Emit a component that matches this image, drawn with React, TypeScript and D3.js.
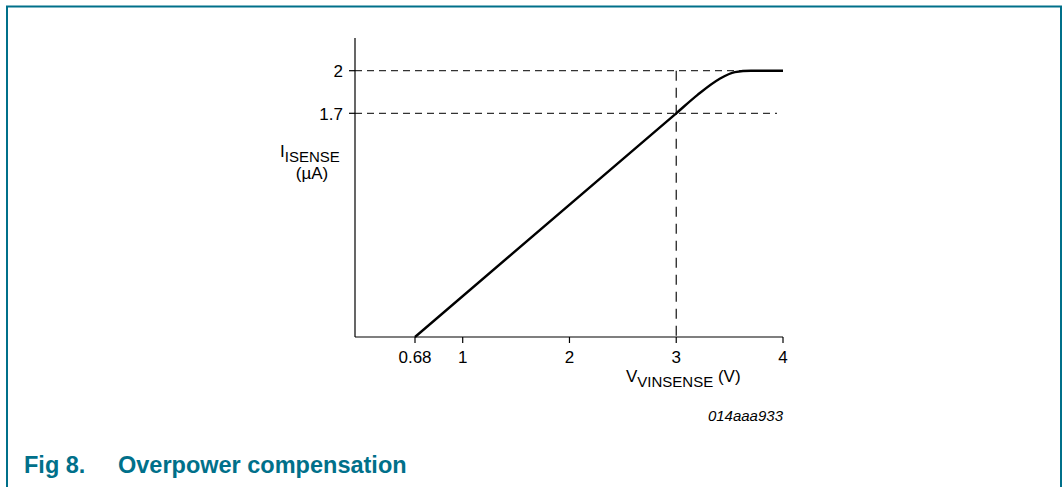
import * as d3 from 'd3';

// schematic axes: ticks are not evenly spaced, so the scales are piecewise
const xTicks = [0.68, 1, 2, 3, 4];
const xTickLabels = ['0.68', '1', '2', '3', '4'];
const yTicks = [1.7, 2];
const yTickLabels = ['1.7', '2'];

// curve I_ISENSE vs V_VINSENSE
const curveV = [0.68, 3, 3.2, 3.4, 3.55, 3.7, 4];
const curveI = [0, 1.7, 1.83, 1.94, 1.99, 2, 2];

const W = 1063;
const H = 487;
const TEAL = '#00708a';

const App = () => {
  const x = d3.scaleLinear().domain([0, 0.68, 1, 4]).range([355, 415, 462.7, 783]);
  const y = d3.scaleLinear().domain([0, 1.7, 2, 2.4]).range([337, 113.3, 70.7, 38]);

  const pts: [number, number][] = curveV.map((v, i) => [v, curveI[i]]);
  const line = d3.line<[number, number]>()
    .x(d => x(d[0]))
    .y(d => y(d[1]))
    .curve(d3.curveMonotoneX);

  const font = 'Liberation Sans, Arial, sans-serif';

  return (
    <svg width={W} height={H} style={{ position: 'absolute', left: 0, top: 0 }}>
      {/* frame */}
      <path d={`M7,${H} V6.5 H1061 V${H}`} fill="none" stroke={TEAL} strokeWidth={2} />

      {/* dashed guides */}
      <line x1={x(0)} x2={x(4)} y1={y(2)} y2={y(2)} stroke="#333" strokeWidth={1.2} strokeDasharray="7,5" />
      <line x1={x(0)} x2={x(4) - 6} y1={y(1.7)} y2={y(1.7)} stroke="#333" strokeWidth={1.2} strokeDasharray="7,5" />
      <line x1={x(3)} x2={x(3)} y1={y(2)} y2={y(0)} stroke="#111" strokeWidth={1.2} strokeDasharray="10,7" />

      {/* axes */}
      <line x1={x(0)} x2={x(4)} y1={y(0)} y2={y(0)} stroke="#000" strokeWidth={1.2} />
      <line x1={x(0)} x2={x(0)} y1={y(0)} y2={y(2.4)} stroke="#000" strokeWidth={1.2} />
      {xTicks.map((t, i) => (
        <g key={'x' + i}>
          <line x1={x(t)} x2={x(t)} y1={y(0)} y2={y(0) + 6} stroke="#000" strokeWidth={1.2} />
          <text x={x(t)} y={363} textAnchor="middle" fontSize={17} fontFamily={font}>{xTickLabels[i]}</text>
        </g>
      ))}
      {yTicks.map((t, i) => (
        <g key={'y' + i}>
          <line x1={x(0) - 6} x2={x(0)} y1={y(t)} y2={y(t)} stroke="#000" strokeWidth={1.2} />
          <text x={343} y={y(t) + 6.5} textAnchor="end" fontSize={17} fontFamily={font}>{yTickLabels[i]}</text>
        </g>
      ))}

      {/* axis titles */}
      <text x={280} y={157} fontSize={17} fontFamily={font}>
        I<tspan dy={5} fontSize={15}>ISENSE</tspan>
      </text>
      <text x={312} y={179} textAnchor="middle" fontSize={17} fontFamily={font}>(µA)</text>
      <text x={626} y={382} fontSize={17} fontFamily={font}>
        V<tspan dy={5} fontSize={15}>VINSENSE</tspan><tspan dy={-5}> (V)</tspan>
      </text>
      <text x={783} y={421} textAnchor="end" fontSize={15} fontStyle="italic" fontFamily={font}>014aaa933</text>

      {/* curve */}
      <path d={line(pts) || ''} fill="none" stroke="#000" strokeWidth={2.4} />

      {/* caption */}
      <text x={24} y={473} fontSize={23.5} fontWeight="bold" fill={TEAL} fontFamily={font}>Fig 8.</text>
      <text x={118} y={473} fontSize={23.5} fontWeight="bold" fill={TEAL} fontFamily={font}>Overpower compensation</text>
    </svg>
  );
};

export default App;
